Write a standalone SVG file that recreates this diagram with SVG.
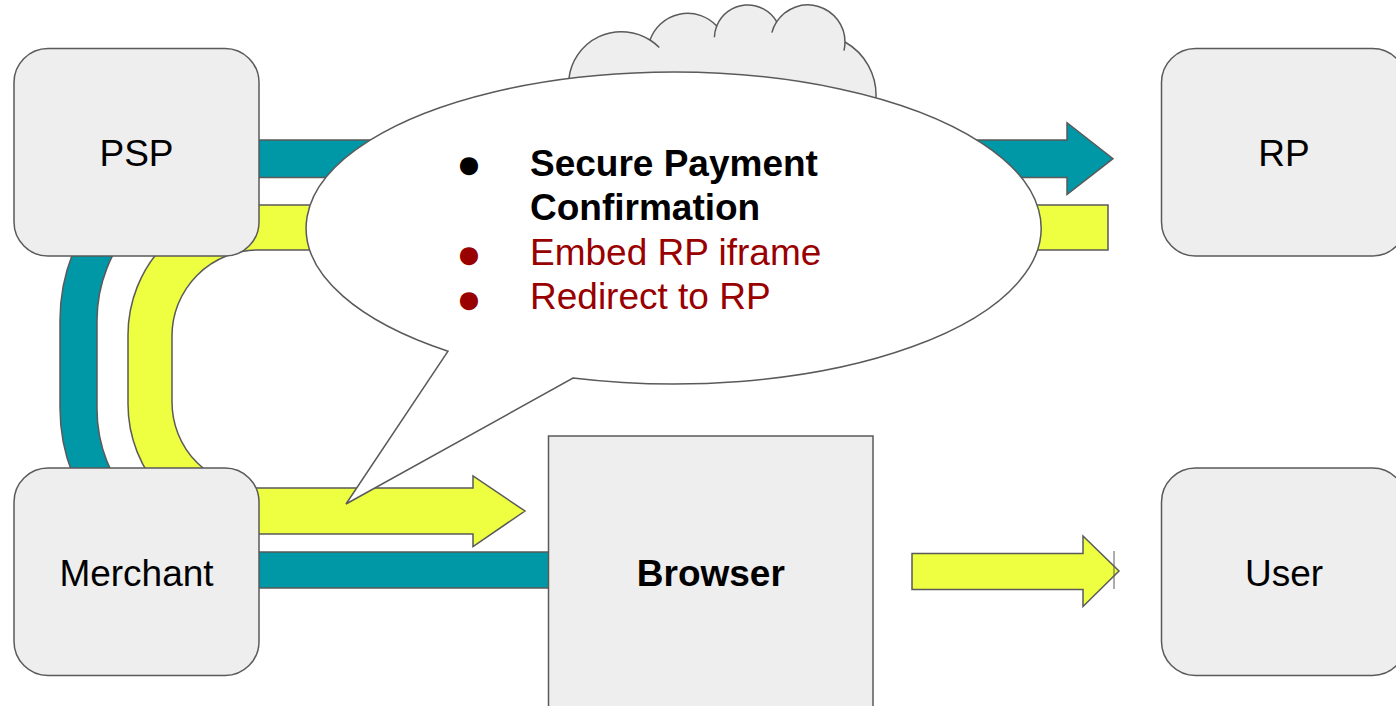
<svg xmlns="http://www.w3.org/2000/svg" width="1396" height="706" viewBox="0 0 1396 706">
<style>
.box{fill:#eeeeee;stroke:#5a5a5a;stroke-width:1.5}
.lbl{font-family:"Liberation Sans",Arial,sans-serif;font-size:37px;text-anchor:middle;fill:#000}
.teal{fill:#0097a7;stroke:#5a5a5a;stroke-width:1.5;stroke-linejoin:miter}
.lime{fill:#eeff41;stroke:#5a5a5a;stroke-width:1.5;stroke-linejoin:miter}
.ln{fill:none;stroke:#5a5a5a;stroke-width:1.5}
.bt{font-family:"Liberation Sans",Arial,sans-serif;font-size:37px}
.bul{font-family:"Liberation Sans","DejaVu Sans",sans-serif;font-size:42px;text-anchor:middle}
</style>
<rect width="1396" height="706" fill="#ffffff"/>
<g id="cloud">
<path d="M569 78 A52.9 52.9 0 0 1 650 40 A39.8 39.8 0 0 1 716.7 26 A33.4 33.4 0 0 1 776.7 21.7 A37.2 37.2 0 0 1 845 42 A61.3 61.3 0 0 1 876 98 L876 160 L569 160 Z" fill="#eeeeee" stroke="none"/>
<path class="ln" d="M569 78 A52.9 52.9 0 0 1 650 40 A39.8 39.8 0 0 1 716.7 26 A33.4 33.4 0 0 1 776.7 21.7 A37.2 37.2 0 0 1 845 42 A61.3 61.3 0 0 1 876 98"/>
<path class="ln" d="M650 40 A52.9 52.9 0 0 1 659.3 47.6 M714.4 37.3 A33.4 33.4 0 0 1 716.7 26 M771.9 32.6 A37.2 37.2 0 0 1 776.7 21.7 M845 42 A37.2 37.2 0 0 1 844 50.6"/>
</g>
<g id="connectors">
<path class="teal" d="M1067 140 L1067 122.7 L1113 158.7 L1067 194.5 L1067 177.5 L240 177.5 A143 143 0 0 0 97 320.5 L97 409 A143 143 0 0 0 240 552 L560 552 L560 588 L240 588 A180 180 0 0 1 60 408 L60 320 A180 180 0 0 1 240 140 Z"/>
<path class="lime" d="M1108 205 L1108 250 L258 250 A86 86 0 0 0 172 336 L172 402 A86 86 0 0 0 258 488 L473 488 L473 476 L525 511 L473 546.5 L473 534 L258 534 A130 130 0 0 1 128 404 L128 335 A130 130 0 0 1 258 205 Z"/>
<path class="lime" d="M912 553.5 L1083 553.5 L1083 536 L1119 571 L1083 606.5 L1083 589.5 L912 589.5 Z"/>
<line x1="1114" y1="551" x2="1114" y2="589" stroke="#5a5a5a" stroke-width="1"/>
</g>
<g id="psp"><rect class="box" x="14" y="48.5" width="245" height="207.5" rx="34"/><text class="lbl" x="136.5" y="166">PSP</text></g>
<g id="merchant"><rect class="box" x="14" y="468" width="245" height="207.5" rx="34"/><text class="lbl" x="136.5" y="586">Merchant</text></g>
<g id="rp"><rect class="box" x="1161.5" y="48.5" width="245" height="207.5" rx="34"/><text class="lbl" x="1284" y="166">RP</text></g>
<g id="user"><rect class="box" x="1161.5" y="468" width="245" height="207.5" rx="34"/><text class="lbl" x="1284" y="586">User</text></g>
<g id="browser"><rect class="box" x="548.5" y="436" width="324.5" height="290"/><text class="lbl" x="710.8" y="586" font-weight="bold">Browser</text></g>
<g id="callout">
<path d="M573 378.1 A367.5 156 0 1 0 448 351.2 L346 504 Z" fill="#ffffff" stroke="#5a5a5a" stroke-width="1.5" stroke-linejoin="miter"/>
<text class="bul" x="469" y="178" fill="#000">●</text>
<text class="bt" x="530" y="176" font-weight="bold" fill="#000">Secure Payment</text>
<text class="bt" x="530" y="220" font-weight="bold" fill="#000">Confirmation</text>
<text class="bul" x="469" y="268" fill="#990000">●</text>
<text class="bt" x="530" y="265" fill="#990000">Embed RP iframe</text>
<text class="bul" x="469" y="313" fill="#990000">●</text>
<text class="bt" x="530" y="309" fill="#990000">Redirect to RP</text>
</g>
</svg>
